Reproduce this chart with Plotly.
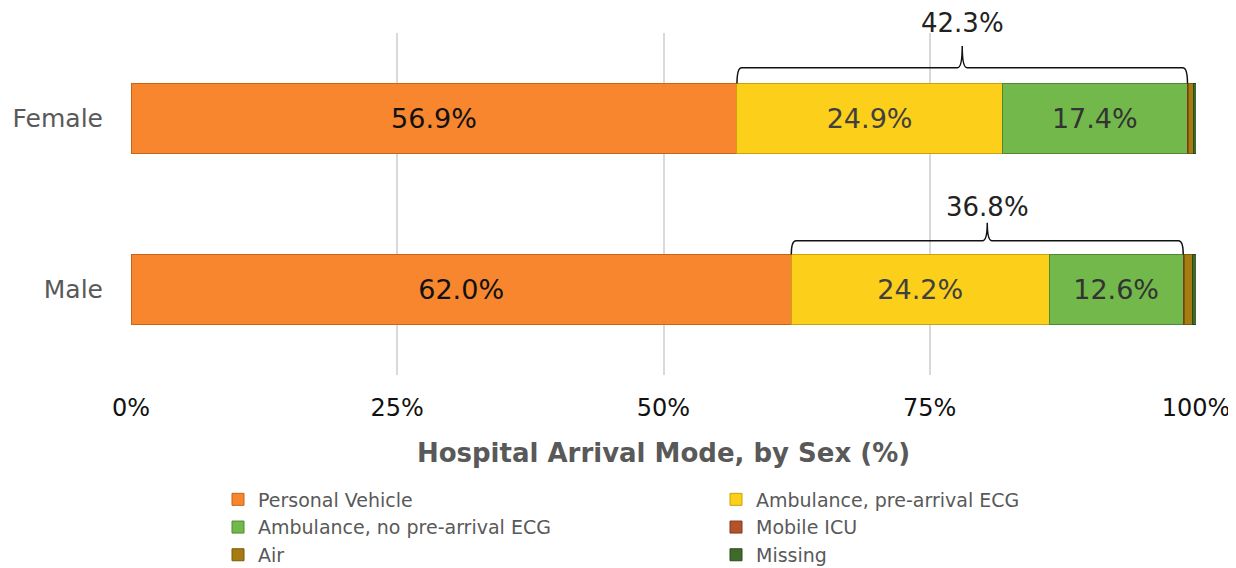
import plotly.graph_objects as go

# data
sexes = ["Male", "Female"]
sex_pos = [0, 1]
modes = [
    "Personal Vehicle",
    "Ambulance, pre-arrival ECG",
    "Ambulance, no pre-arrival ECG",
    "Mobile ICU",
    "Air",
    "Missing",
]
personal_vehicle = [62.0, 56.9]
ambulance_ecg = [24.2, 24.9]
ambulance_no_ecg = [12.6, 17.4]
mobile_icu = [0.1, 0.1]
air = [0.8, 0.5]
missing = [0.3, 0.2]
x_ticks = [0, 25, 50, 75, 100]
x_tick_labels = ["0%", "25%", "50%", "75%", "100%"]

COLORS = ["#F7862E", "#FCCF1A", "#72B84A", "#B4532A", "#A67C12", "#3E6B2C"]
EDGES = ["#C86418", "#C9A20E", "#4F8A30", "#823A1C", "#7A5A0A", "#2A4A1E"]
TEXT_COLORS = ["#111111", "#404040", "#333333", "#333333", "#333333", "#333333"]
FONT = "DejaVu Sans, Verdana, sans-serif"
BAR_W = 0.41

series = [personal_vehicle, ambulance_ecg, ambulance_no_ecg, mobile_icu, air, missing]

fig = go.Figure()
for i, (name, vals) in enumerate(zip(modes, series)):
    labels = [f"{v:.1f}%" for v in vals] if i < 3 else ["", ""]
    fig.add_trace(go.Bar(
        y=sex_pos, x=vals, name=name, orientation="h",
        width=BAR_W,
        marker=dict(color=COLORS[i], line=dict(color=EDGES[i], width=1)),
        text=labels, textposition="inside", insidetextanchor="middle",
        textangle=0,
        textfont=dict(size=27, color=TEXT_COLORS[i], family=FONT),
        hoverinfo="x+name",
    ))

# brackets over the two ambulance segments
# (line height, peak height in y units, label shift in px)
bracket_cfg = {0: (0.285, 0.39, 34), 1: (0.297, 0.424, 45)}
for k, pos in enumerate(sex_pos):
    x0 = personal_vehicle[k]
    x1 = personal_vehicle[k] + ambulance_ecg[k] + ambulance_no_ecg[k]
    mid = (x0 + x1) / 2
    base = pos + BAR_W / 2
    line_h, peak_h, shift = bracket_cfg[pos]
    ly = pos + line_h
    py = pos + peak_h
    dx = 0.45
    path = (
        f"M {x0},{base} Q {x0},{ly} {x0 + dx},{ly} "
        f"L {mid - dx},{ly} Q {mid},{ly} {mid},{py} "
        f"Q {mid},{ly} {mid + dx},{ly} "
        f"L {x1 - dx},{ly} Q {x1},{ly} {x1},{base}"
    )
    fig.add_shape(type="path", path=path, xref="x", yref="y",
                  line=dict(color="#111111", width=1.5))
    fig.add_annotation(x=mid, y=ly, yshift=shift, yanchor="middle",
                       text=f"{ambulance_ecg[k] + ambulance_no_ecg[k]:.1f}%",
                       showarrow=False, font=dict(size=26, color="#222222", family=FONT))

# page has an 8px body margin, so the figure is drawn 8px in from the corner
fig.update_layout(
    width=1228, height=560,
    barmode="stack",
    plot_bgcolor="white", paper_bgcolor="white",
    font=dict(family=FONT, color="#595959"),
    margin=dict(l=123, r=40, t=25, b=193, autoexpand=False),
    showlegend=True,
    legend=dict(
        orientation="h", x=(210 - 123) / 1065, xref="paper", xanchor="left",
        y=1 - 472.5 / 560, yref="container", yanchor="top",
        entrywidth=453, entrywidthmode="pixels",
        font=dict(size=19, color="#595959", family=FONT),
        traceorder="normal", itemclick=False,
        bgcolor="rgba(0,0,0,0)",
    ),
    xaxis=dict(
        range=[0, 100], tickvals=x_ticks, ticktext=x_tick_labels,
        showgrid=True, gridcolor="#D9D9D9", gridwidth=2, zeroline=False,
        tickfont=dict(size=24, color="#111111", family=FONT),
        ticks="", ticklabelstandoff=16,
        title=dict(text="<b>Hospital Arrival Mode, by Sex (%)</b>",
                   font=dict(size=26, color="#595959", family=FONT), standoff=22),
    ),
    yaxis=dict(
        range=[-0.5, 1.5], tickvals=sex_pos, ticktext=sexes,
        showgrid=False, zeroline=False, ticks="",
        tickfont=dict(size=25, color="#595959", family=FONT),
        ticklabelstandoff=27,
    ),
)

fig.write_html("out.html")
